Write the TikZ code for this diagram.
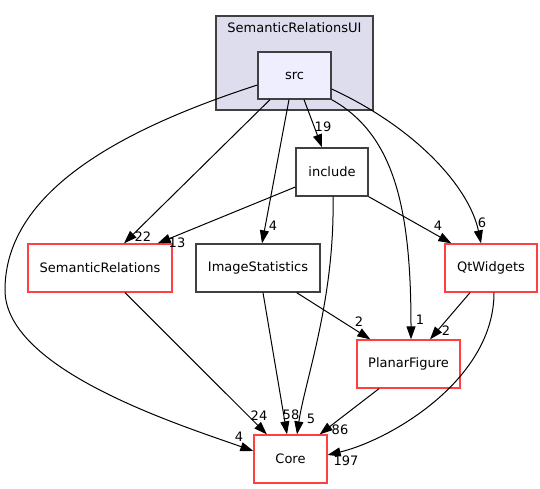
\documentclass[tikz,border=0pt]{standalone}
\usepackage{fontspec}
\setmainfont{DejaVu Sans}
\usepackage{tikz}
\usetikzlibrary{arrows.meta}
\definecolor{clusterfill}{HTML}{DDDDEE}
\definecolor{srcfill}{HTML}{EEEEFF}
\definecolor{boxgray}{HTML}{404040}
\definecolor{boxred}{HTML}{FF4040}

\begin{document}
\begin{tikzpicture}[x=1pt,y=-1pt,>={Triangle[length=13pt,width=9pt]},
                    line width=1pt,font=\fontsize{13}{15}\selectfont]
  \tikzstyle{dir}=[draw=boxgray,line width=1.3pt,inner sep=0pt,minimum height=48pt]
  \tikzstyle{dirred}=[dir,draw=boxred]
  \tikzstyle{lbl}=[inner sep=0pt]
  \tikzstyle{dep}=[->,black,line width=1pt]

  \useasboundingbox (0,0) rectangle (540,489);

  \node[dir, fill=clusterfill, minimum width=157pt, minimum height=94pt] (ui) at (294.5,63) {};
  \node[lbl] (uilabel) at (294.5,28) {SemanticRelationsUI};

  \node[dir, fill=srcfill, minimum width=73pt, minimum height=47pt] (src) at (294.5,75.5) {src};
  \node[dir, minimum width=72pt]     (include) at (332,172)   {include};
  \node[dirred, minimum width=144pt] (SR)      at (100,268)   {SemanticRelations};
  \node[dir, minimum width=124pt]    (IS)      at (258,268)   {ImageStatistics};
  \node[dirred, minimum width=92pt]  (Qt)      at (491,268)   {QtWidgets};
  \node[dirred, minimum width=103pt] (PF)      at (408.5,364) {PlanarFigure};
  \node[dirred, minimum width=73pt]  (Core)    at (290.5,459) {Core};

  % straight dependencies
  \path ([xshift=-24.5pt]src.south) edge [dep] ([xshift=24pt]SR.north)
        ([xshift=-5.5pt]src.south)  edge [dep] ([xshift=4pt]IS.north)
        ([xshift=9.5pt]src.south)   edge [dep] ([xshift=-10pt]include.north)

        ([yshift=-15pt]include.west) edge [dep] ([xshift=-15pt]SR.north east)
        (include.south east)         edge [dep] ([xshift=7pt]Qt.north west)

        ([xshift=5pt]IS.south)         edge [dep] ([xshift=-3.5pt]Core.north)
        ([xshift=-24pt]IS.south east)  edge [dep] ([xshift=14pt]PF.north west)

        ([xshift=-21pt]Qt.south)  edge [dep] ([xshift=21.5pt]PF.north)
        ([xshift=25pt]SR.south)   edge [dep] ([xshift=13.5pt]Core.north west)
        ([xshift=-29.5pt]PF.south) edge [dep] ([xshift=-8pt]Core.north east);

  % curved dependencies
  \draw[dep] ([yshift=-9.5pt]src.west) .. controls (125,128) and (5,190) .. (5,290)
             .. controls (5,370) and (180,425) .. ([yshift=8pt]Core.west);
  \draw[dep] (src.south east) .. controls (395,135) and (411,210) .. ([xshift=2.5pt]PF.north);
  \draw[dep] ([yshift=-13.5pt]src.east) .. controls (420,130) and (470,190) .. ([xshift=-10pt]Qt.north);
  \draw[dep] ([xshift=1pt]include.south) .. controls (335,300) and (305,380) .. ([xshift=6.5pt]Core.north);
  \draw[dep] ([xshift=3pt]Qt.south) .. controls (494,380) and (390,440) .. ([yshift=4pt]Core.east);

  % counts
  \node[lbl] (n22)  at (143,237) {22};
  \node[lbl] (n4is) at (273,226) {4};
  \node[lbl] (n19)  at (323,127) {19};
  \node[lbl] (n13)  at (177,243) {13};
  \node[lbl] (n4qt) at (438,226) {4};
  \node[lbl] (n6)   at (482,223) {6};
  \node[lbl] (n1)   at (420,320) {1};
  \node[lbl] (n2is) at (359,322) {2};
  \node[lbl] (n2qt) at (446,331) {2};
  \node[lbl] (n4c)  at (239,437) {4};
  \node[lbl] (n24)  at (259,416) {24};
  \node[lbl] (n58)  at (291,415) {58};
  \node[lbl] (n5)   at (311,419) {5};
  \node[lbl] (n86)  at (340,430) {86};
  \node[lbl] (n197) at (346,461) {197};
\end{tikzpicture}
\end{document}
